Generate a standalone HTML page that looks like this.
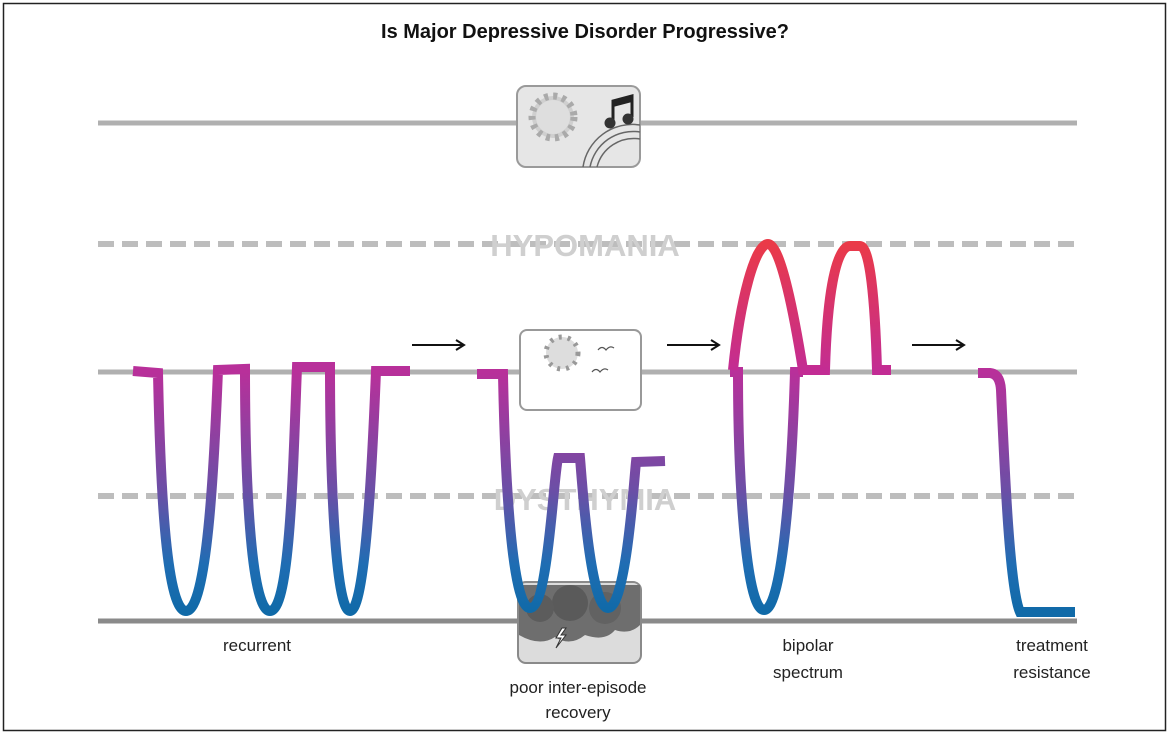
<!DOCTYPE html>
<html><head><style>
body{margin:0;background:#fff;width:1169px;height:734px;overflow:hidden;font-family:"Liberation Sans",sans-serif}
</style></head><body>
<svg width="1169" height="734" viewBox="0 0 1169 734" xmlns="http://www.w3.org/2000/svg">
<defs>
<linearGradient id="g" gradientUnits="userSpaceOnUse" x1="0" y1="372" x2="0" y2="612">
<stop offset="0" stop-color="#b8309a"/><stop offset="0.5" stop-color="#6a4fa6"/><stop offset="0.8" stop-color="#1f6db3"/><stop offset="1" stop-color="#106aa8"/></linearGradient>
<linearGradient id="r" gradientUnits="userSpaceOnUse" x1="0" y1="244" x2="0" y2="372">
<stop offset="0" stop-color="#ea3a48"/><stop offset="1" stop-color="#c22c94"/></linearGradient>
</defs>
<rect x="3.5" y="3.5" width="1162" height="727" fill="none" stroke="#222" stroke-width="1.5"/>
<text x="585" y="38" font-size="20" font-weight="bold" text-anchor="middle" fill="#111">Is Major Depressive Disorder Progressive?</text>
<line x1="98" y1="123" x2="1077" y2="123" stroke="#b0b0b0" stroke-width="5"/>
<line x1="98" y1="244" x2="1077" y2="244" stroke="#bdbdbd" stroke-width="6" stroke-dasharray="16,8"/>
<line x1="98" y1="372" x2="1077" y2="372" stroke="#b0b0b0" stroke-width="5"/>
<line x1="98" y1="496" x2="1077" y2="496" stroke="#bdbdbd" stroke-width="6" stroke-dasharray="16,8"/>
<line x1="98" y1="621" x2="1077" y2="621" stroke="#8a8a8a" stroke-width="5"/>
<text x="585" y="256" font-size="31" font-weight="bold" text-anchor="middle" fill="#cfcfcf">HYPOMANIA</text>
<text x="585" y="510" font-size="31" font-weight="bold" text-anchor="middle" fill="#cfcfcf">DYSTHYMIA</text>
<!-- top box -->
<rect x="517" y="86" width="123" height="81" rx="9" fill="#e6e6e6" stroke="#9a9a9a" stroke-width="2"/>
<circle cx="553" cy="117" r="21" fill="#cfcfcf" stroke="#aaa" stroke-width="7" stroke-dasharray="4,5"/>
<circle cx="553" cy="117" r="17" fill="#dedede"/>
<path d="M583 167 A50 50 0 0 1 640 125 M590 167 A44 44 0 0 1 640 132 M597 167 A38 38 0 0 1 640 139" fill="none" stroke="#666" stroke-width="1.5"/>
<path d="M613 122 V101 L632 96 V117" fill="none" stroke="#222" stroke-width="3"/>
<path d="M613 101 L632 96 V102 L613 107Z" fill="#222"/>
<circle cx="610" cy="123" r="5.5" fill="#333"/><circle cx="628" cy="119" r="5.5" fill="#333"/>
<!-- middle box -->
<rect x="520" y="330" width="121" height="80" rx="7" fill="#fff" stroke="#999" stroke-width="2"/>
<circle cx="562" cy="353" r="16" fill="#ddd" stroke="#999" stroke-width="5" stroke-dasharray="3,6"/>
<circle cx="562" cy="353" r="13" fill="#ddd"/>
<path d="M598 350 q4 -5 8 0 q4 -5 8 -2 M592 372 q4 -5 8 0 q4 -5 8 -2" fill="none" stroke="#555" stroke-width="1.2"/>
<!-- bottom box -->
<rect x="518" y="582" width="123" height="81" rx="8" fill="#dcdcdc" stroke="#8a8a8a" stroke-width="2"/>
<path d="M519 585 h121 v40 q-10 10 -25 5 q-10 12 -30 5 q-15 12 -30 2 q-15 10 -36 -2z" fill="#6e6e6e"/>
<circle cx="570" cy="603" r="18" fill="#5a5a5a"/><circle cx="605" cy="608" r="16" fill="#626262"/><circle cx="540" cy="608" r="14" fill="#5c5c5c"/>
<path d="M562 628 l-6 10 h5 l-5 10 l10 -13 h-5 l5 -7z" fill="#fff" stroke="#333" stroke-width="1"/>
<!-- arrows -->
<g stroke="#111" stroke-width="2" fill="none">
<line x1="412" y1="345" x2="463" y2="345"/><path d="M456 340 L464 345 L456 350"/>
<line x1="667" y1="345" x2="718" y2="345"/><path d="M711 340 L719 345 L711 350"/>
<line x1="912" y1="345" x2="963" y2="345"/><path d="M956 340 L964 345 L956 350"/>
</g>
<!-- waves -->
<g fill="none" stroke-width="10" stroke-linejoin="miter">
<path stroke="url(#g)" d="M133 371 L158 373 C160 470 165 611 186 611 C207 611 214 470 218 370 L245 369 C245 470 250 611 270 611 C290 611 293 470 297 367 L330 367 C330 470 335 611 350 611 C365 611 372 470 376 371 L410 371"/>
<path stroke="url(#g)" d="M477 374 L503 374 C505 480 512 608 530 608 C548 608 553 480 558 458 L580 458 C582 480 590 608 608 608 C626 608 634 480 636 462 L665 461"/>
<path stroke="url(#g)" d="M730 372 L738 372 C738 470 745 610 764 610 C783 610 792 470 795 372 L803 372"/>
<path stroke="url(#r)" d="M733 370 C740 300 755 244 768 244 C781 244 795 320 803 370 L825 370 C827 300 835 246 850 246 L860 246 C870 246 875 300 877 370 L891 370"/>
<path stroke="url(#g)" d="M978 373 L990 373 Q1000 374 1001 390 C1005 480 1010 590 1020 612 L1075 612"/>
</g>
<!-- labels -->
<g font-size="17" fill="#222" text-anchor="middle">
<text x="257" y="651">recurrent</text>
<text x="578" y="693">poor inter-episode</text><text x="578" y="718">recovery</text>
<text x="808" y="651">bipolar</text><text x="808" y="678">spectrum</text>
<text x="1052" y="651">treatment</text><text x="1052" y="678">resistance</text>
</g>
</svg>
</body></html>
